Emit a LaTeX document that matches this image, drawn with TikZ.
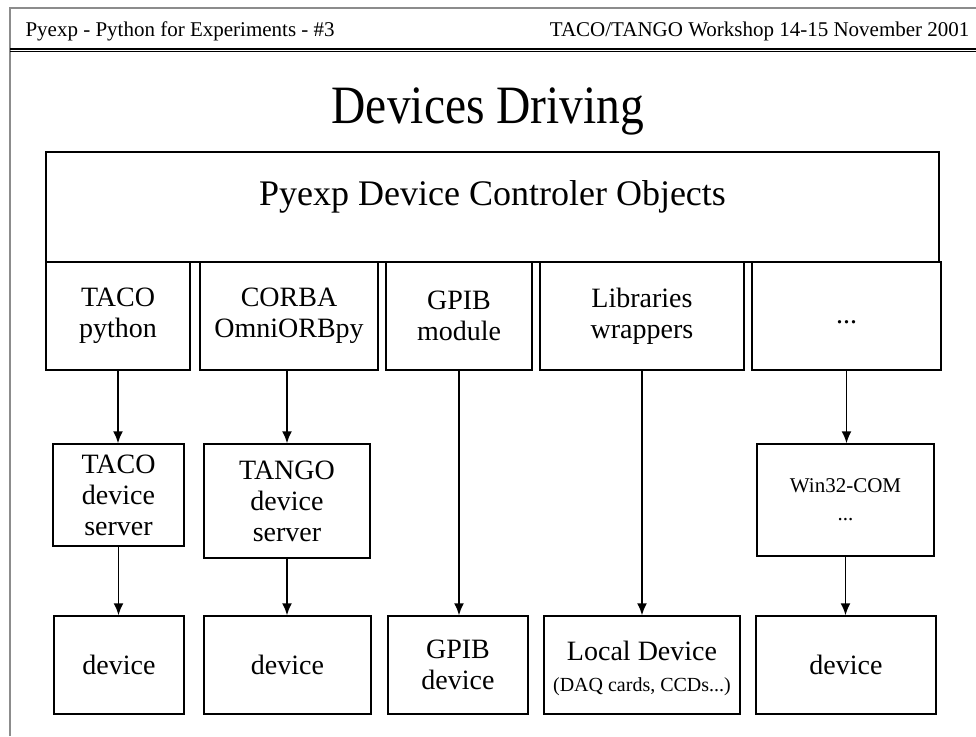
\documentclass[tikz,border=0pt]{standalone}
\usepackage{fontspec}
\setmainfont{Liberation Serif}
\newfontfamily\titlefont[FakeStretch=0.88]{Liberation Serif}
\usetikzlibrary{arrows.meta}
\usetikzlibrary{positioning}

\begin{document}
\begin{tikzpicture}[x=1pt,y=-1pt,>={Latex[length=12pt,width=10pt]},
    box/.style={draw,line width=1.5pt,align=center,inner sep=0pt,
      font=\fontsize{28}{31}\selectfont},
    link/.style={->,line width=1.6pt}]
  \useasboundingbox (0,0) rectangle (976,736);
  \draw[black!45,line width=1.5pt] (10,736) -- (10,8) -- (976,8);
  \node[anchor=base west,font=\fontsize{21}{24}\selectfont] (talk) at (22,36)
    {Pyexp - Python for Experiments - \#3};
  \node[anchor=base east,font=\fontsize{21}{24}\selectfont] (event) at (973,36)
    {TACO/TANGO Workshop 14-15 November 2001};
  \draw[line width=2pt] (10,48.5) -- (976,48.5);
  \draw[line width=1pt] (10,51.5) -- (976,51.5);
  \node[anchor=base,font=\titlefont\fontsize{54}{60}\selectfont] (title) at (488,123) {Devices Driving};

  \node[box,minimum width=893pt,minimum height=110pt,text depth=28pt,
    font=\fontsize{36}{40}\selectfont] (ctl) at (492.5,207) {Pyexp Device Controler Objects};

  \node[box,minimum width=144pt,minimum height=108pt] (taco) at (118,316) {TACO\\python};
  \node[box,minimum width=178pt,minimum height=108pt] (corba) at (289,316) {CORBA\\OmniORBpy};
  \node[box,minimum width=146pt,minimum height=108pt] (gpib) at (459,316) {GPIB\\module};
  \node[box,minimum width=204pt,minimum height=108pt] (libs) at (642,316) {Libraries\\wrappers};
  \node[box,minimum width=189pt,minimum height=108pt,text height=20pt,text depth=6pt]
    (more) at (846.5,316) {...};

  \node[box,minimum width=131pt,minimum height=102pt] (tacosrv) at (118.5,495) {TACO\\device\\server};
  \node[box,minimum width=166pt,minimum height=114pt] (tangosrv) at (287,501) {TANGO\\device\\server};
  \node[box,minimum width=177pt,minimum height=112pt,font=\fontsize{21}{28}\selectfont]
    (win) at (845.5,500) {Win32-COM\\...};

  \node[box,minimum width=130pt,minimum height=98pt] (dev1) at (119,665) {device};
  \node[box,minimum width=167pt,minimum height=98pt] (dev2) at (287.5,665) {device};
  \node[box,minimum width=140pt,minimum height=98pt] (gpibdev) at (458,665) {GPIB\\device};
  \node[box,minimum width=196pt,minimum height=98pt,text height=58pt] (local) at (642,665)
    {Local Device\\{\fontsize{20}{26}\selectfont (DAQ cards, CCDs...)}};
  \node[box,minimum width=180pt,minimum height=98pt] (dev3) at (846,665) {device};

  \draw[link] (taco) -- (taco |- tacosrv.north);
  \draw[link] (tacosrv) -- (tacosrv |- dev1.north);
  \draw[link] (tangosrv |- corba.south) -- (tangosrv);
  \draw[link] (tangosrv) -- (tangosrv |- dev2.north);
  \draw[link] (gpib) -- (gpib |- gpibdev.north);
  \draw[link] (libs) -- (libs |- local.north);
  \draw[link] (more) -- (more |- win.north);
  \draw[link] (win) -- (win |- dev3.north);
\end{tikzpicture}
\end{document}
